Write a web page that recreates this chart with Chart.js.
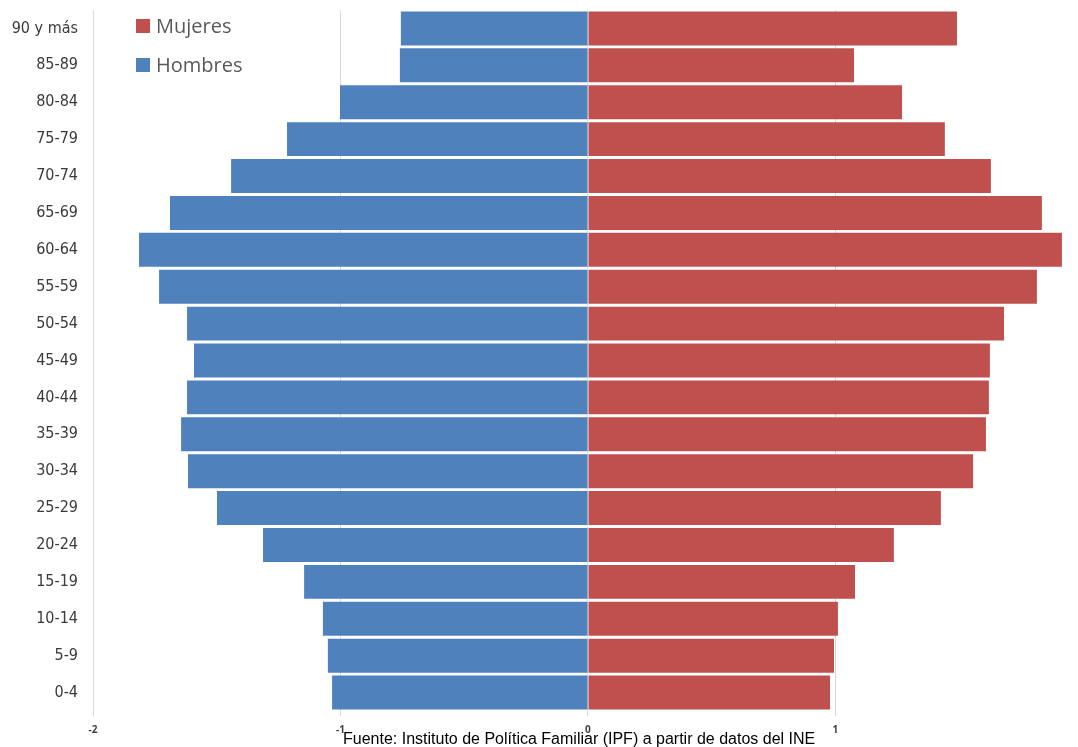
<!DOCTYPE html>
<html>
<head>
<meta charset="utf-8">
<script src="https://cdn.jsdelivr.net/npm/chart.js@4.4.1/dist/chart.umd.min.js"></script>
<style>
  html, body { margin: 0; padding: 0; background: #fff; }
  #wrap { position: relative; width: 1078px; height: 747px; overflow: hidden; }
  canvas { position: absolute; left: 0; top: 0; }
  .lg { position: absolute; font-family: "Open Sans", sans-serif; font-size: 20px; color: #595959; line-height: 20px; white-space: nowrap; }
  .sw { position: absolute; width: 14px; height: 14px; }
  #src { position: absolute; left: 343px; top: 731px; font-family: "Liberation Sans", Arial, sans-serif; font-size: 16px; line-height: 16px; color: #000; white-space: nowrap; }
</style>
</head>
<body>
<div id="wrap">
  <canvas id="c" width="1078" height="747"></canvas>
  <div class="sw" id="swM" style="left:136px; top:19px;"></div>
  <div class="lg" id="lgM" style="left:156px; top:16px;"></div>
  <div class="sw" id="swH" style="left:136px; top:58px;"></div>
  <div class="lg" id="lgH" style="left:156px; top:55px;"></div>
  <div id="src"></div>
</div>
<script>
// Age groups, top to bottom
const categories = ['90 y más', '85-89', '80-84', '75-79', '70-74', '65-69', '60-64', '55-59', '50-54', '45-49', '40-44', '35-39', '30-34', '25-29', '20-24', '15-19', '10-14', '5-9', '0-4'];
// Percent of population (men plotted on the negative side)
const hombres = [-0.756, -0.760, -1.002, -1.216, -1.442, -1.689, -1.814, -1.733, -1.620, -1.592, -1.620, -1.644, -1.616, -1.499, -1.313, -1.147, -1.071, -1.051, -1.034];
const mujeres = [1.491, 1.075, 1.269, 1.442, 1.628, 1.834, 1.915, 1.814, 1.681, 1.624, 1.620, 1.608, 1.556, 1.426, 1.236, 1.079, 1.010, 0.994, 0.978];
const xTicks = [-2, -1, 0, 1];
const seriesNames = ['Mujeres', 'Hombres'];
const sourceText = 'Fuente: Instituto de Política Familiar (IPF) a partir de datos del INE';

const colorM = '#C0504D';
const colorH = '#4F81BD';

document.getElementById('swM').style.background = colorM;
document.getElementById('swH').style.background = colorH;
document.getElementById('lgM').textContent = seriesNames[0];
document.getElementById('lgH').textContent = seriesNames[1];
document.getElementById('src').textContent = sourceText;

new Chart(document.getElementById('c'), {
  type: 'bar',
  data: {
    labels: categories,
    datasets: [
      { label: seriesNames[0], data: mujeres, backgroundColor: colorM, borderWidth: 0 },
      { label: seriesNames[1], data: hombres, backgroundColor: colorH, borderWidth: 0 }
    ]
  },
  options: {
    indexAxis: 'y',
    responsive: false,
    animation: false,
    layout: { padding: { top: 10, left: 0, right: 0, bottom: 0 } },
    plugins: { legend: { display: false }, tooltip: { enabled: false } },
    datasets: { bar: { barPercentage: 1, categoryPercentage: 0.92 } },
    scales: {
      x: {
        type: 'linear',
        stacked: true,
        min: -2,
        max: 1.98,
        afterBuildTicks: (s) => { s.ticks = xTicks.map(v => ({ value: v })); },
        afterFit: (s) => { s.height = 36; s.paddingLeft = 0; s.paddingRight = 0; },
        grid: { color: '#d9d9d9', lineWidth: 1, drawTicks: true, tickLength: 5, tickColor: '#d9d9d9' },
        border: { display: false },
        ticks: { padding: 8, font: { family: 'Open Sans', size: 10, weight: 'bold' }, color: '#404040', maxRotation: 0 }
      },
      y: {
        stacked: true,
        afterFit: (s) => { s.width = 93; s.paddingTop = 0; s.paddingBottom = 0; },
        grid: { display: false, drawTicks: false },
        border: { display: false },
        ticks: { padding: 15, font: { family: '"DejaVu Sans Condensed", "DejaVu Sans"', size: 16 }, color: '#3a3a3a' }
      }
    }
  }
});
</script>
</body>
</html>
